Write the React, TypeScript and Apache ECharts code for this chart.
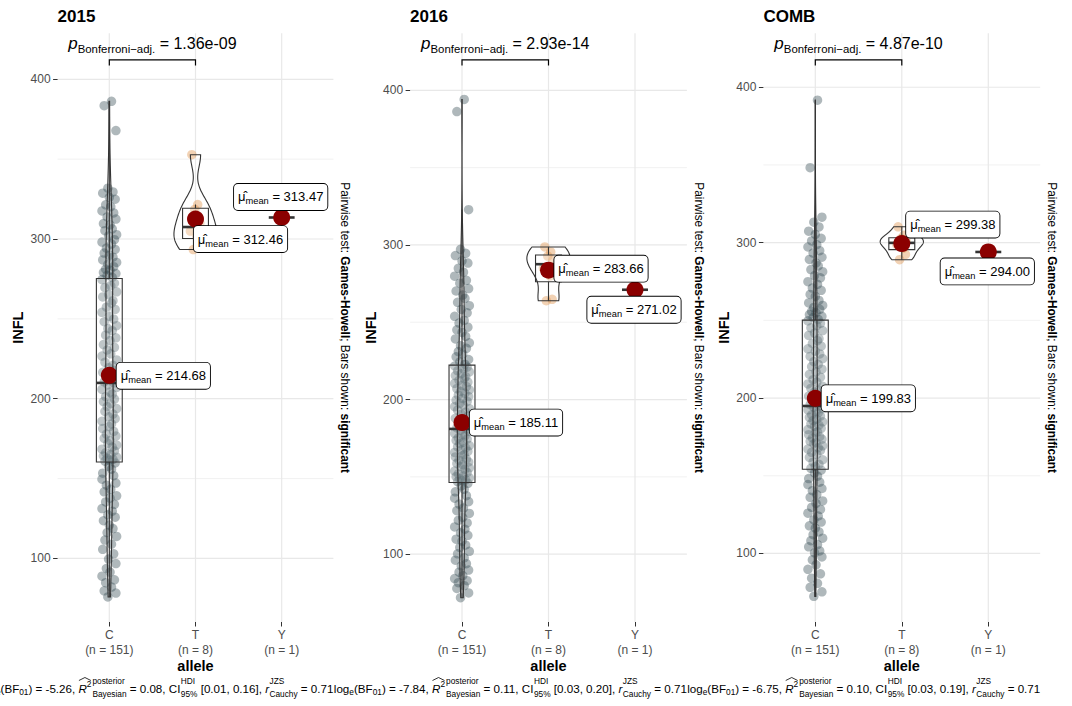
import React, { useEffect, useRef } from "react";
import * as echarts from "echarts";

// ---------------- data ----------------
const panelTitles = ["2015", "2016", "COMB"];
const categories = ["C", "T", "Y"];

const infl2015C = [
  386.2, 383.5, 367.9,
  331.8, 329.5, 328.7, 326.1, 324.9, 321.4, 320.2, 317.6, 316.3, 313.8, 312.5, 309.7, 308.9, 306.4, 305.2,
  302.7, 301.9, 299.6, 298.1, 296.8, 294.3, 293.5, 291.2, 289.8, 288.6, 286.9, 285.3, 284.1, 282.7, 281.2,
  280.5, 279.1, 278.4, 277.2, 276.0,
  274.6, 272.3, 270.8, 269.5, 266.9, 265.2, 263.7, 261.4, 259.8, 257.3, 255.9, 254.1, 251.6, 249.8, 248.2,
  245.7, 243.9, 242.6, 239.8, 238.1, 236.4, 233.9, 232.2, 230.5, 228.1, 226.7, 224.3, 222.8, 220.9, 219.4,
  217.8, 216.5, 215.3, 214.1, 212.9, 211.8, 210.6,
  209.9,
  208.7, 207.1, 205.8, 204.2, 202.9, 201.3, 199.8, 198.2, 196.9, 195.1, 193.8, 192.0, 190.4, 188.7, 187.5,
  185.9, 184.2, 182.6, 181.3, 179.5, 177.9, 176.6, 175.2, 173.8, 172.1, 170.9, 169.7, 168.4, 167.3, 166.1,
  165.0, 164.2, 163.4, 162.7, 162.0, 161.5, 160.9,
  159.8, 157.6, 155.9, 153.4, 151.8, 149.6, 147.2, 145.9, 143.3, 141.7, 139.2, 137.8, 135.4, 133.9, 131.2,
  129.6, 127.3, 125.8, 123.6, 120.9, 118.7, 116.2, 113.8, 111.5, 108.9, 105.7, 102.9, 99.6, 96.8, 93.7,
  91.4, 88.9, 86.6, 84.8, 82.1, 79.7, 78.3, 75.9,
];
const infl2015T = [352.8, 321.6, 318.5, 310.0, 305.0, 301.4, 297.0, 293.4];
const infl2015Y = [313.47];

const infl2016C = [
  394.1, 386.3, 322.8,
  297.2, 294.6, 293.1, 289.7, 288.3, 284.9, 282.4, 279.8, 277.1, 275.3, 271.8, 270.2, 267.6, 265.4, 262.9,
  260.7, 258.3, 256.1, 253.8, 251.2, 249.5, 246.8, 245.1, 243.4, 240.9, 239.2, 236.7, 234.8, 233.1, 231.0,
  229.4, 227.6, 225.9, 224.3, 222.8,
  221.7, 220.9, 219.8, 218.6, 217.9, 216.7, 215.5, 214.8, 213.6, 212.4, 211.3, 210.5, 209.2, 208.4, 207.1,
  206.3, 205.2, 204.0, 202.8, 201.9, 200.7, 199.6, 198.8, 197.5, 196.3, 195.4, 194.1, 193.2, 191.8, 190.5,
  189.3, 187.9, 186.6, 185.4, 184.1, 182.9, 181.6,
  181.0,
  180.2, 179.4, 178.1, 177.3, 176.5, 175.2, 174.4, 173.6, 172.3, 171.5, 170.2, 169.4, 168.7, 167.3, 166.5,
  165.8, 164.4, 163.6, 162.9, 161.5, 160.8, 159.6, 158.7, 157.9, 156.6, 155.8, 154.9, 153.7, 152.8, 151.9,
  150.7, 150.1, 149.3, 148.8, 148.1, 147.6, 146.9,
  145.8, 144.1, 141.9, 140.3, 137.8, 136.2, 133.9, 132.4, 129.8, 128.1, 126.3, 123.7, 121.9, 120.2, 117.6,
  116.1, 113.8, 112.2, 109.7, 108.4, 105.9, 104.3, 101.8, 100.2, 97.6, 96.1, 93.8, 92.4, 89.7, 88.3,
  86.1, 84.2, 82.8, 81.5, 79.6, 77.8, 74.9, 71.8,
];
const infl2016T = [298.7, 295.5, 292.8, 290.1, 285.0, 280.0, 264.8, 263.9];
const infl2016Y = [271.02];

const inflCombC = [
  391.7, 348.2,
  316.4, 313.2, 310.1, 307.4, 305.3, 302.8, 301.1, 298.7, 297.2, 294.8, 293.3, 290.6, 289.2, 286.9, 285.1,
  282.7, 281.3, 278.8, 277.4, 274.9, 273.2, 270.8, 269.3, 266.7, 265.4, 262.8, 261.2, 259.6, 258.3, 257.1,
  255.8, 254.9, 253.7, 252.6, 251.8, 250.6,
  249.7, 248.1, 246.6, 245.2, 243.4, 241.8, 240.3, 238.2, 236.9, 235.1, 233.4, 231.7, 230.2, 228.4, 226.8,
  225.3, 223.5, 221.7, 220.3, 218.6, 216.9, 215.2, 213.4, 211.8, 210.3, 209.1, 207.6, 206.2, 205.1, 203.9,
  202.4, 201.3, 200.1, 198.9, 197.6, 196.8, 195.7,
  194.9,
  194.1, 193.2, 192.4, 191.3, 190.5, 189.2, 188.4, 187.6, 186.3, 185.5, 184.7, 183.4, 182.6, 181.8, 180.5,
  179.7, 178.3, 177.6, 176.4, 175.1, 174.3, 173.5, 172.2, 171.4, 170.6, 169.3, 168.1, 167.2, 166.4, 165.1,
  163.8, 161.9, 160.3, 158.7, 157.4, 155.9, 154.8,
  153.6, 151.8, 149.7, 148.2, 145.9, 144.3, 141.8, 140.4, 137.9, 136.1, 133.8, 132.2, 129.7, 128.3, 125.9,
  124.1, 121.6, 120.2, 117.8, 116.3, 113.9, 112.1, 109.8, 108.2, 105.7, 104.3, 101.6, 100.4, 97.8, 95.9,
  92.7, 89.8, 86.9, 84.1, 80.8, 78.2, 75.3, 72.4,
];
const inflCombT = [310.2, 304.8, 302.6, 300.9, 298.8, 296.5, 292.4, 289.0];
const inflCombY = [294.0];

const means2015 = [214.68, 312.46, 313.47];
const means2016 = [185.11, 283.66, 271.02];
const meansComb = [199.83, 299.38, 294.0];

const pValues = ["1.36e-09", "2.93e-14", "4.87e-10"];
const logBF01 = ["-5.26", "-7.84", "-6.75"];
const r2Bayes = ["0.08", "0.11", "0.10"];
const ciLow = ["0.01", "0.03", "0.03"];
const ciHigh = ["0.16", "0.20", "0.19"];
const rCauchy = ["0.71", "0.71", "0.71"];

const yTicks = [100, 200, 300, 400];
const yMinorTicks = [150, 250, 350];

// horizontal jitter of the points
const cJitter = [
  3, -7, 9, -2, 5, -9, 0, 8, -5, 2, -10, 6, -3, 9, -8, 1, 4, -6, 10, -1, 7, -10, 3, -4, 8, -7, 0, 5, -9, 10,
  -2, 6, -5, 1, -8, 9, -3, 4, -10, 7, 2, -6, 10, -1, -9, 5, 3, -4, 8, -10, 0, 6, -7, 10, -2, 4, -5, 9, 1, -8,
  7, -3, 2, -10, 10, -6, 5, -1, 8, -9, 3, -4, 0, 9, -7, 6, -2, 10, -10, 1, 4, -5, 7, -8, 2, -3, 10, -6, 5, -1,
  8, -10, 3, 0, -9, 6, -4, 9, -7, 1, -2, 10, 4, -10, 7, -5, 2, -8, 10, -3, 5, 0, -6, 8, -1, 3, -9, 6, -10, 9,
  -4, 2, -7, 10, 1, -5, 7, -10, 4, -2, 8, -8, 0, 5, -3, 10, -6, 3, -9, 6, -1, 9, -4, 1, -10, 7, -5,
];
const tJitter = [-5, 3, -1, 6, -7, 2, 5, -3];
const yJitter = [1];

// ---------------- layout / style ----------------
const FONT = '"Liberation Sans", Arial, Helvetica, sans-serif';
const GRID_TOP = 33.3;
const GRID_H = 588.7;
const JITTER_SCALE = 0.0085;
const groupColors = ["#374E55", "#DF8F44", "#00A1D5"];

const layout = [
  { left: 57.6, width: 275.8, yMin: 60.2, yMax: 428.8, bracketY: 412.1,
    labelOffsets: [[54, 0.5], [45, 20], [-1, -20.5]] },
  { left: 410.1, width: 276.8, yMin: 56.1, yMax: 436.9, bracketY: 419.7,
    labelOffsets: [[54, 0], [52.5, -1.5], [-1, 20]] },
  { left: 763.4, width: 276.8, yMin: 55.9, yMax: 434.7, bracketY: 417.6,
    labelOffsets: [[53, 0], [51, -19], [-1, 19.5]] },
];

const panelData = [
  { groups: [infl2015C, infl2015T, infl2015Y], means: means2015 },
  { groups: [infl2016C, infl2016T, infl2016Y], means: means2016 },
  { groups: [inflCombC, inflCombT, inflCombY], means: meansComb },
];
const jitters = [cJitter, tJitter, yJitter];

// ---------------- stats helpers ----------------
function sortAsc(a: number[]) {
  return [...a].sort((x, y) => x - y);
}
function q7(s: number[], p: number) {
  const h = (s.length - 1) * p;
  const lo = Math.floor(h);
  const hi = Math.ceil(h);
  return s[lo] + (h - lo) * (s[hi] - s[lo]);
}
function boxStats(vals: number[]) {
  const s = sortAsc(vals);
  const q1 = q7(s, 0.25), med = q7(s, 0.5), q3 = q7(s, 0.75);
  const iqr = q3 - q1;
  const lo = s.find((v) => v >= q1 - 1.5 * iqr) as number;
  const hi = [...s].reverse().find((v) => v <= q3 + 1.5 * iqr) as number;
  return { q1, med, q3, lo, hi };
}
function bwNrd0(vals: number[]) {
  const s = sortAsc(vals);
  const n = s.length;
  const mean = s.reduce((a, b) => a + b, 0) / n;
  const sd = Math.sqrt(s.reduce((a, b) => a + (b - mean) * (b - mean), 0) / (n - 1));
  const iqr = q7(s, 0.75) - q7(s, 0.25);
  let lo = Math.min(sd, iqr / 1.34);
  if (!(lo > 0)) lo = sd || 1;
  return 0.9 * lo * Math.pow(n, -0.2);
}
function kde(vals: number[]) {
  const s = sortAsc(vals);
  const n = s.length;
  const bw = bwNrd0(vals);
  const lo = s[0], hi = s[n - 1];
  const N = 200;
  const out: { y: number; d: number }[] = [];
  for (let k = 0; k < N; k++) {
    const y = lo + ((hi - lo) * k) / (N - 1);
    let sum = 0;
    for (const v of s) {
      const z = (y - v) / bw;
      sum += Math.exp(-0.5 * z * z);
    }
    out.push({ y, d: sum / (n * bw * Math.sqrt(2 * Math.PI)) });
  }
  return out;
}

// ---------------- option ----------------
function buildOption() {
  const canvas = document.createElement("canvas");
  const ctx = canvas.getContext("2d") as CanvasRenderingContext2D;
  const measure = (t: string, size: number, italic = false) => {
    ctx.font = `${italic ? "italic " : ""}${size}px "Liberation Sans"`;
    return ctx.measureText(t).width;
  };

  const grids: any[] = [];
  const xAxes: any[] = [];
  const yAxes: any[] = [];
  const series: any[] = [];
  const graphics: any[] = [];

  layout.forEach((L, i) => {
    const P = panelData[i];
    const counts = P.groups.map((g) => g.length);
    grids.push({ left: L.left, top: GRID_TOP, width: L.width, height: GRID_H, containLabel: false, outerBoundsMode: "none" });
    xAxes.push({
      type: "value", gridIndex: i, min: 0.4, max: 3.6,
      axisLine: { show: false },
      axisTick: { show: true, customValues: [1, 2, 3], length: 4.5, lineStyle: { color: "#333333", width: 1 } },
      axisLabel: {
        customValues: [1, 2, 3], margin: 6, color: "#4D4D4D", fontSize: 12, lineHeight: 14.5, fontFamily: FONT,
        formatter: (v: number) => {
          const k = Math.round(v) - 1;
          return `${categories[k]}\n(n = ${counts[k]})`;
        },
      },
      splitLine: { show: false },
    });
    yAxes.push({
      type: "value", gridIndex: i, min: L.yMin, max: L.yMax,
      axisLine: { show: false },
      axisTick: { show: true, customValues: yTicks, length: 4.5, lineStyle: { color: "#333333", width: 1 } },
      axisLabel: { customValues: yTicks, margin: 7, color: "#4D4D4D", fontSize: 12, fontFamily: FONT },
      splitLine: { show: false },
    });

    // grid lines
    series.push({
      type: "custom", xAxisIndex: i, yAxisIndex: i, z: 0, silent: true, data: [[2, 200]],
      renderItem: (params: any, api: any) => {
        const cs = params.coordSys;
        const children: any[] = [];
        yMinorTicks.forEach((v) => {
          const y = api.coord([1, v])[1];
          children.push({ type: "line", shape: { x1: cs.x, y1: y, x2: cs.x + cs.width, y2: y }, style: { stroke: "#EBEBEB", lineWidth: 0.7 } });
        });
        yTicks.forEach((v) => {
          const y = api.coord([1, v])[1];
          children.push({ type: "line", shape: { x1: cs.x, y1: y, x2: cs.x + cs.width, y2: y }, style: { stroke: "#E8E8E8", lineWidth: 1.2 } });
        });
        [1, 2, 3].forEach((c) => {
          const x = api.coord([c, 200])[0];
          children.push({ type: "line", shape: { x1: x, y1: cs.y, x2: x, y2: cs.y + cs.height }, style: { stroke: "#E8E8E8", lineWidth: 1.2 } });
        });
        return { type: "group", children };
      },
    });

    // jittered points
    P.groups.forEach((g, k) => {
      const jit = jitters[k];
      series.push({
        type: "scatter", xAxisIndex: i, yAxisIndex: i, z: 2, silent: true,
        symbol: "circle", symbolSize: 9.5,
        itemStyle: { color: groupColors[k], opacity: 0.4, borderWidth: 0 },
        data: g.map((v, j) => [k + 1 + jit[j % jit.length] * JITTER_SCALE, v]),
      });
    });

    // box + violin
    const stats = P.groups.map(boxStats);
    const dens = P.groups.map((g) => (g.length >= 2 ? kde(g) : null));
    let maxD = 0;
    dens.forEach((d) => d && d.forEach((p) => (maxD = Math.max(maxD, p.d))));
    series.push({
      type: "custom", xAxisIndex: i, yAxisIndex: i, z: 3, silent: true, data: [[2, 200]],
      renderItem: (params: any, api: any) => {
        const children: any[] = [];
        P.groups.forEach((g, k) => {
          const cx = k + 1;
          const s = stats[k];
          const stroke = "#333333";
          if (g.length >= 2) {
            const a = api.coord([cx, s.q3]), b = api.coord([cx, s.hi]);
            const c = api.coord([cx, s.q1]), d = api.coord([cx, s.lo]);
            children.push({ type: "line", shape: { x1: a[0], y1: a[1], x2: b[0], y2: b[1] }, style: { stroke, lineWidth: 1.1 } });
            children.push({ type: "line", shape: { x1: c[0], y1: c[1], x2: d[0], y2: d[1] }, style: { stroke, lineWidth: 1.1 } });
            const tl = api.coord([cx - 0.15, s.q3]);
            const br = api.coord([cx + 0.15, s.q1]);
            children.push({ type: "rect", shape: { x: tl[0], y: tl[1], width: br[0] - tl[0], height: br[1] - tl[1] },
              style: { fill: "rgba(255,255,255,0.2)", stroke, lineWidth: 1.1 } });
          }
          const m1 = api.coord([cx - 0.15, s.med]);
          const m2 = api.coord([cx + 0.15, s.med]);
          children.push({ type: "line", shape: { x1: m1[0], y1: m1[1], x2: m2[0], y2: m2[1] }, style: { stroke, lineWidth: 2.6 } });
          const dk = dens[k];
          if (dk) {
            const pts: number[][] = [];
            dk.forEach((p) => pts.push(api.coord([cx - (p.d / maxD) * 0.25, p.y])));
            for (let j = dk.length - 1; j >= 0; j--) pts.push(api.coord([cx + (dk[j].d / maxD) * 0.25, dk[j].y]));
            children.push({ type: "polygon", shape: { points: pts }, style: { fill: "none", stroke, lineWidth: 1.1 } });
          }
        });
        return { type: "group", children };
      },
    });

    // means with labels
    const offs = L.labelOffsets;
    series.push({
      type: "scatter", xAxisIndex: i, yAxisIndex: i, z: 5, silent: true,
      symbol: "circle", symbolSize: 17,
      itemStyle: { color: "#8B0000", opacity: 1 },
      data: P.means.map((m, k) => [k + 1, m]),
      label: {
        show: true, position: "inside",
        formatter: (p: any) => `{mu|\u03BC\u0302}{sub|mean}{eq| = ${Number(p.value[1]).toFixed(2)}}`,
        backgroundColor: "#FFFFFF", borderColor: "#000000", borderWidth: 0.9, borderRadius: 4,
        padding: [4, 4, 4, 4],
        rich: {
          mu: { fontSize: 13, fontFamily: FONT, color: "#000", lineHeight: 18 },
          sub: { fontSize: 9.3, fontFamily: FONT, color: "#000", lineHeight: 10, verticalAlign: "bottom" },
          eq: { fontSize: 13, fontFamily: FONT, color: "#000", lineHeight: 18 },
        },
      },
      labelLayout: (params: any) => ({
        dx: offs[params.dataIndex][0],
        dy: offs[params.dataIndex][1],
        hideOverlap: false,
      }),
    });

    // significance bracket + label
    series.push({
      type: "custom", xAxisIndex: i, yAxisIndex: i, z: 6, silent: true, data: [[1.5, L.bracketY]],
      renderItem: (params: any, api: any) => {
        const a = api.coord([1, L.bracketY]);
        const b = api.coord([2, L.bracketY]);
        const tip = 5.5;
        return {
          type: "group",
          children: [
            { type: "polyline", shape: { points: [[a[0], a[1] + tip], [a[0], a[1]], [b[0], b[1]], [b[0], b[1] + tip]] },
              style: { stroke: "#000", lineWidth: 1.2, fill: "none" } },
            { type: "text", x: (a[0] + b[0]) / 2, y: a[1] - 16.5,
              style: {
                text: `{p|p}{s|Bonferroni\u2212adj.}{e| = ${pValues[i]}}`,
                align: "center", verticalAlign: "middle", fill: "#000",
                rich: {
                  p: { fontSize: 17, fontStyle: "italic", fontFamily: FONT, lineHeight: 22, fill: "#000" },
                  s: { fontSize: 11.4, fontFamily: FONT, lineHeight: 12, verticalAlign: "bottom", fill: "#000" },
                  e: { fontSize: 16, fontFamily: FONT, lineHeight: 22, fill: "#000" },
                },
              } },
          ],
        };
      },
    });

    // ---- graphic texts ----
    const cxMid = L.left + L.width / 2;
    const cyMid = GRID_TOP + GRID_H / 2;
    graphics.push({ type: "text", x: L.left, y: 16.5, silent: true,
      style: { text: panelTitles[i], fontSize: 17, fontWeight: "bold", fontFamily: FONT, fill: "#000", align: "left", verticalAlign: "middle" } });
    graphics.push({ type: "text", x: cxMid, y: 666, silent: true,
      style: { text: "allele", fontSize: 14.5, fontWeight: "bold", fontFamily: FONT, fill: "#000", align: "center", verticalAlign: "middle" } });
    graphics.push({ type: "text", x: L.left - 39.5, y: cyMid, rotation: Math.PI / 2, silent: true,
      style: { text: "INFL", fontSize: 14.5, fontWeight: "bold", fontFamily: FONT, fill: "#000", align: "center", verticalAlign: "middle" } });
    graphics.push({ type: "text", x: L.left + L.width + 11.8, y: cyMid, rotation: -Math.PI / 2, silent: true,
      style: {
        text: "{n|Pairwise test: }{b|Games-Howell}{n|; Bars shown: }{b|significant}",
        align: "center", verticalAlign: "middle", fill: "#000",
        rich: {
          n: { fontSize: 11.9, fontFamily: FONT, fill: "#000" },
          b: { fontSize: 11.9, fontFamily: FONT, fontWeight: "bold", fill: "#000" },
        },
      } });

    // caption (Bayesian stats), right-aligned to the panel
    const capRight = L.left + L.width;
    const CY = 688.5;
    const SUP = -8, SUB = 5.5;
    const build = (sc: number) => {
      const B = 12 * sc, S = 8.6 * sc;
      const items: any[] = [];
      let x = 0;
      const put = (t: string, size: number, dy: number, italic = false) => {
        items.push({ t, x, dy, size, italic });
        x += measure(t, size, italic);
      };
      const stack = (a: string, b: string) => {
        const x0 = x;
        items.push({ t: a, x: x0, dy: SUP, size: S, italic: false });
        items.push({ t: b, x: x0, dy: SUB, size: S, italic: false });
        x = x0 + Math.max(measure(a, S), measure(b, S));
      };
      put("log", B, 0); put("e", S, 3.5); put("(BF", B, 0); put("01", S, 3.5);
      put(`) = ${logBF01[i]}, `, B, 0);
      const h0 = x;
      put("R", B, 0, true); put("2", S, -4.5);
      const h1 = x;
      x += 1;
      stack("posterior", "Bayesian");
      put(` = ${r2Bayes[i]}, `, B, 0);
      put("CI", B, 0); x += 0.5;
      stack("HDI", "95%");
      put(` [${ciLow[i]}, ${ciHigh[i]}], `, B, 0);
      put("r", B, 0, true); x += 0.5;
      stack("JZS", "Cauchy");
      put(` = ${rCauchy[i]}`, B, 0);
      return { items, width: x, h0, h1 };
    };
    const first = build(1);
    const target = 353.3;
    const cap = build(target / first.width);
    const off = capRight - cap.width;
    cap.items.forEach((it: any) => {
      graphics.push({ type: "text", x: off + it.x, y: CY + it.dy, silent: true,
        style: { text: it.t, fontSize: it.size, fontStyle: it.italic ? "italic" : "normal", fontFamily: FONT, fill: "#000", align: "left", verticalAlign: "middle" } });
    });
    graphics.push({ type: "polyline", silent: true,
      shape: { points: [[off + cap.h0 + 0.5, CY - 8], [off + (cap.h0 + cap.h1) / 2, CY - 11], [off + cap.h1 - 0.5, CY - 8]] },
      style: { stroke: "#000", lineWidth: 0.8, fill: "none" } });
  });

  return {
    animation: false,
    backgroundColor: "#FFFFFF",
    textStyle: { fontFamily: FONT },
    grid: grids,
    xAxis: xAxes,
    yAxis: yAxes,
    series,
    graphic: { elements: graphics },
  };
}

export default function App() {
  const ref = useRef<HTMLDivElement>(null);
  useEffect(() => {
    document.body.style.margin = "0";
    if (!ref.current) return;
    const chart = echarts.init(ref.current, null, { renderer: "svg" });
    chart.setOption(buildOption() as any);
    return () => chart.dispose();
  }, []);
  return (
    <div
      ref={ref}
      style={{ position: "fixed", left: 0, top: 0, width: 1072, height: 706, background: "#fff" }}
    />
  );
}
